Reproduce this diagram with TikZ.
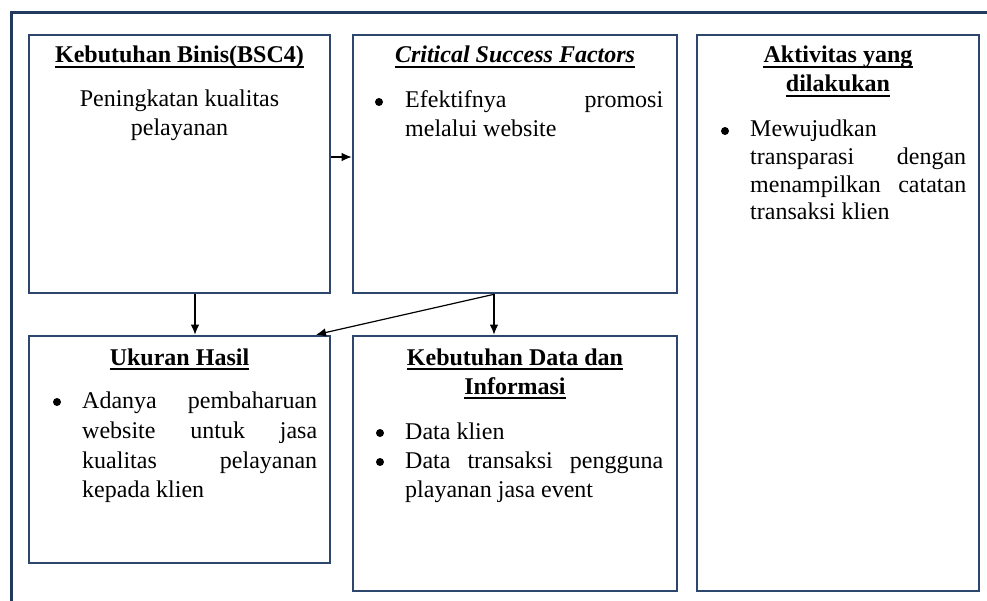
\documentclass[tikz,border=0pt]{standalone}
\usepackage{fontspec}
\setmainfont{Liberation Serif}
\usetikzlibrary{arrows.meta}
\definecolor{framecol}{RGB}{34,58,94}
\definecolor{boxline}{RGB}{44,70,108}
% a line of text stretched to a fixed width (justified)
\newcommand\jline[2]{\makebox[#1][s]{#2}}
\begin{document}
\begin{tikzpicture}[x=1pt,y=-1pt,
  box/.style={draw=boxline,line width=2.6pt,inner sep=0pt,rectangle},
  txt/.style={anchor=base west,inner sep=0pt,font=\fontsize{24}{29}\selectfont},
  ctxt/.style={anchor=base,inner sep=0pt,font=\fontsize{24}{29}\selectfont},
  ttl/.style={anchor=base,inner sep=0pt,font=\fontsize{24}{29}\selectfont\bfseries},
  dot/.style={circle,fill=black,inner sep=0pt,minimum size=8pt},
  uline/.style={line width=1.8pt},
  arr/.style={-{Latex[length=10pt,width=8.5pt]},line width=1.2pt}]
\useasboundingbox (0,0) rectangle (987,601);

% outer frame (runs off the right and bottom edges)
\draw[framecol,line width=3pt] (990,13) -- (11,13) -- (11,605);

% boxes
\node[box,minimum width=301pt,minimum height=258pt] (b1) at (179.5,164) {};
\node[box,minimum width=324pt,minimum height=258pt] (b2) at (515,164) {};
\node[box,minimum width=282pt,minimum height=556pt] (b3) at (838,313) {};
\node[box,minimum width=301pt,minimum height=227pt] (b4) at (179.5,449.5) {};
\node[box,minimum width=324pt,minimum height=255pt] (b5) at (515,463.5) {};

% connectors
\draw[arr] (b1.east |- 0,157) -- (b2.west |- 0,157);
\draw[arr] (b1.south -| 195,0) -- (b4.north -| 195,0);
\draw[arr] (b2.south -| 494,0) -- (b5.north -| 494,0);
\draw[arr] (b2.south -| 494,0) -- (b4.north -| 316,0);

% Kebutuhan Binis
\node[ttl] (t1) at (179.5,63) {Kebutuhan Binis(BSC4)};
\draw[uline] ([yshift=-4pt]t1.base west) -- ([yshift=-4pt]t1.base east);
\node[ctxt] (b1a) at (179.5,107) {Peningkatan kualitas};
\node[ctxt] (b1b) at (179.5,136) {pelayanan};

% Critical Success Factors
\node[ttl] (t2) at (515,63) {\itshape Critical Success Factors};
\draw[uline] ([yshift=-4pt]t2.base west) -- ([yshift=-4pt]t2.base east);
\node[dot] (d2) at (379,102) {};
\node[txt] (b2a) at (405,108) {\jline{258pt}{Efektifnya promosi}};
\node[txt] (b2b) at (405,137) {melalui website};

% Aktivitas yang dilakukan
\node[ttl] (t3a) at (838,63) {Aktivitas yang};
\draw[uline] ([yshift=-4pt]t3a.base west) -- ([yshift=-4pt]t3a.base east);
\node[ttl] (t3b) at (838,92) {dilakukan};
\draw[uline] ([yshift=-4pt]t3b.base west) -- ([yshift=-4pt]t3b.base east);
\node[dot] (d3) at (725,131) {};
\node[txt] (b3a) at (750,137) {Mewujudkan};
\node[txt] (b3b) at (750,165) {\jline{216pt}{transparasi dengan}};
\node[txt] (b3c) at (750,193) {\jline{216pt}{menampilkan catatan}};
\node[txt] (b3d) at (750,220) {transaksi klien};

% Ukuran Hasil
\node[ttl] (t4) at (179.5,365) {Ukuran Hasil};
\draw[uline] ([yshift=-4pt]t4.base west) -- ([yshift=-4pt]t4.base east);
\node[dot] (d4) at (57,402) {};
\node[txt] (b4a) at (82,408) {\jline{235pt}{Adanya pembaharuan}};
\node[txt] (b4b) at (82,438) {\jline{235pt}{website untuk jasa}};
\node[txt] (b4c) at (82,468) {\jline{235pt}{kualitas pelayanan}};
\node[txt] (b4d) at (82,497) {kepada klien};

% Kebutuhan Data dan Informasi
\node[ttl] (t5a) at (515,365) {Kebutuhan Data dan};
\draw[uline] ([yshift=-4pt]t5a.base west) -- ([yshift=-4pt]t5a.base east);
\node[ttl] (t5b) at (515,394) {Informasi};
\draw[uline] ([yshift=-4pt]t5b.base west) -- ([yshift=-4pt]t5b.base east);
\node[dot] (d5a) at (380,433) {};
\node[txt] (b5a) at (405,439) {Data klien};
\node[dot] (d5b) at (380,462) {};
\node[txt] (b5b) at (405,468) {\jline{258pt}{Data transaksi pengguna}};
\node[txt] (b5c) at (405,497) {playanan jasa event};
\end{tikzpicture}
\end{document}
